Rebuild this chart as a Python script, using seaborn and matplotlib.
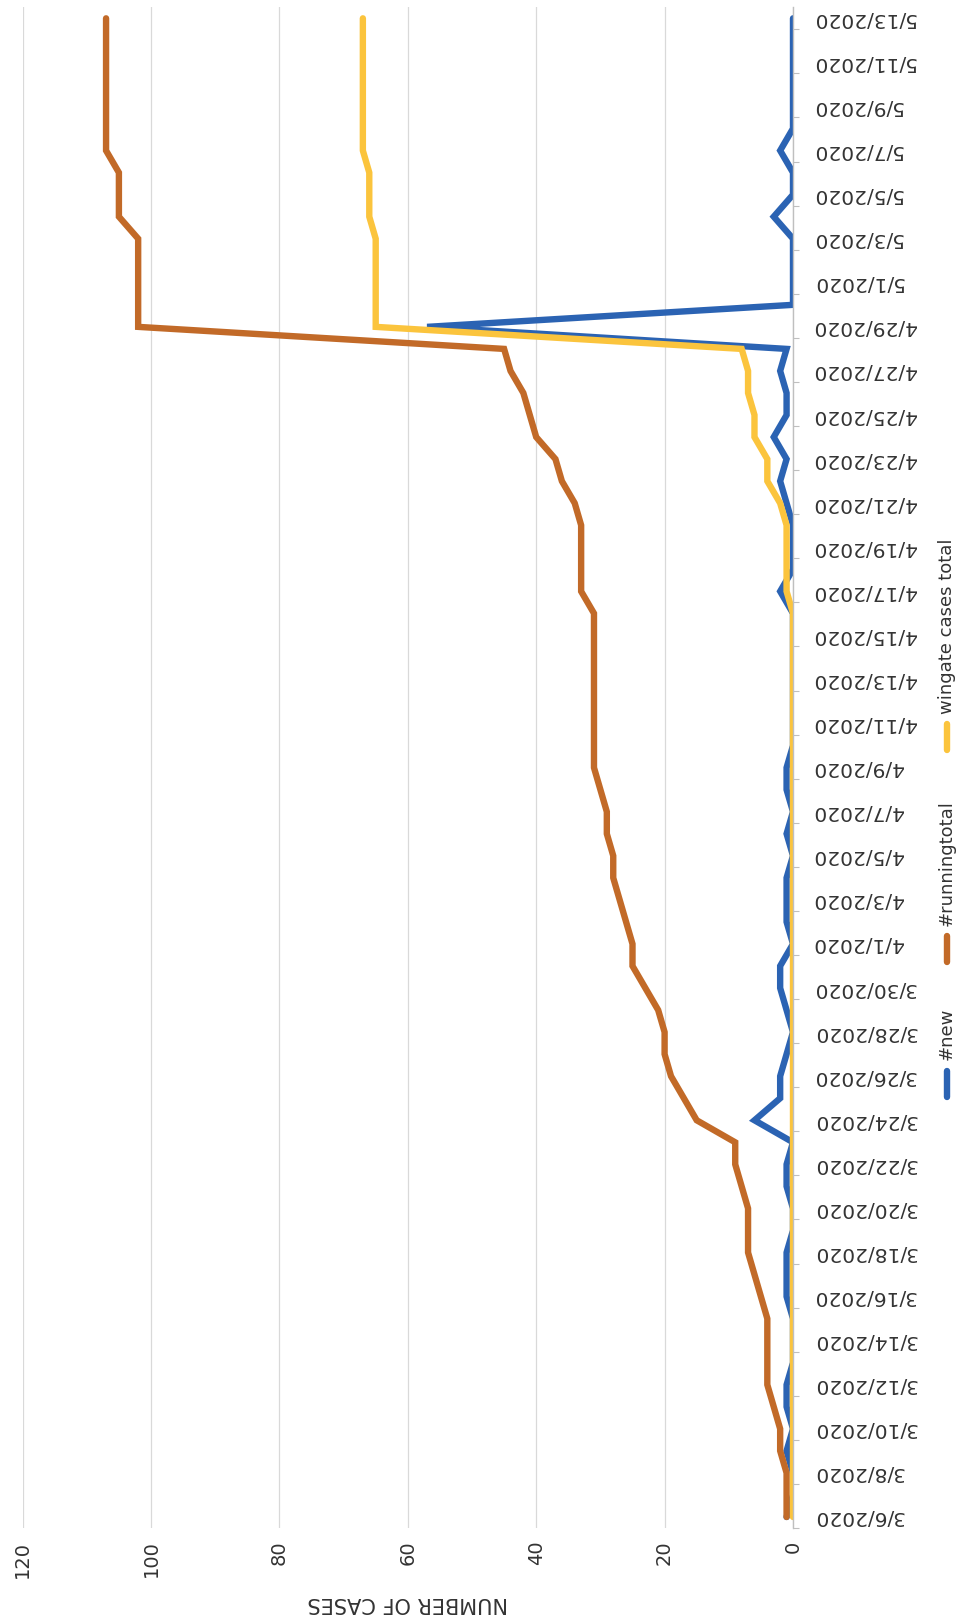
#!/usr/bin/env python3
#
# New / running total / wingate cases, drawn in the rotated (scanned) layout
#
import numpy as np
import pandas as pd
import matplotlib
matplotlib.use('Agg')
import matplotlib.pyplot as plt
from matplotlib.lines import Line2D
import seaborn as sns

# Daily data, 3/6/2020 .. 5/13/2020
dates = pd.date_range('2020-03-06', '2020-05-13', freq='D')

new_cases = [1, 0, 0, 1, 0, 1, 1, 0, 0, 0,
             1, 1, 1, 0, 0, 1, 1, 0, 6, 2,
             2, 1, 0, 1, 2, 2, 0, 1, 1, 1,
             0, 1, 0, 1, 1, 0, 0, 0, 0, 0,
             0, 0, 2, 0, 0, 0, 1, 2, 1, 3,
             1, 1, 2, 1, 57, 0, 0, 0, 0, 3,
             0, 0, 2, 0, 0, 0, 0, 0, 0]

running_total = [1, 1, 1, 2, 2, 3, 4, 4, 4, 4,
                 5, 6, 7, 7, 7, 8, 9, 9, 15, 17,
                 19, 20, 20, 21, 23, 25, 25, 26, 27, 28,
                 28, 29, 29, 30, 31, 31, 31, 31, 31, 31,
                 31, 31, 33, 33, 33, 33, 34, 36, 37, 40,
                 41, 42, 44, 45, 102, 102, 102, 102, 102, 105,
                 105, 105, 107, 107, 107, 107, 107, 107, 107]

wingate_total = [0, 0, 0, 0, 0, 0, 0, 0, 0, 0,
                 0, 0, 0, 0, 0, 0, 0, 0, 0, 0,
                 0, 0, 0, 0, 0, 0, 0, 0, 0, 0,
                 0, 0, 0, 0, 0, 0, 0, 0, 0, 0,
                 0, 0, 1, 1, 1, 1, 2, 4, 4, 6,
                 6, 7, 7, 8, 65, 65, 65, 65, 65, 66,
                 66, 66, 67, 67, 67, 67, 67, 67, 67]

series_names = ['#new', '#runningtotal', 'wingate cases total']

date_labels = [
    '3/6/2020', '3/8/2020', '3/10/2020', '3/12/2020', '3/14/2020',
    '3/16/2020', '3/18/2020', '3/20/2020', '3/22/2020', '3/24/2020',
    '3/26/2020', '3/28/2020', '3/30/2020', '4/1/2020', '4/3/2020',
    '4/5/2020', '4/7/2020', '4/9/2020', '4/11/2020', '4/13/2020',
    '4/15/2020', '4/17/2020', '4/19/2020', '4/21/2020', '4/23/2020',
    '4/25/2020', '4/27/2020', '4/29/2020', '5/1/2020', '5/3/2020',
    '5/5/2020', '5/7/2020', '5/9/2020', '5/11/2020', '5/13/2020',
]

value_ticks = [0, 20, 40, 60, 80, 100, 120]

colors = ['#2b63b3', '#c26a28', '#fbc43d']
palette = dict(zip(series_names, colors))

text_color = '#333333'
plt.rcParams['font.family'] = ['DejaVu Sans']

# Long-form data frame, category axis uses day position
n = len(dates)
day = np.arange(n)
df = pd.DataFrame({
    'day': np.tile(day, 3),
    'cases': new_cases + running_total + wingate_total,
    'series': np.repeat(series_names, n),
})

W, H = 959, 1623
fig = plt.figure(figsize=(W / 100, H / 100), dpi=100)
x0, x1 = 22.6, 793.0
y_top, y_bot = 7.3, 1528.0
ax = fig.add_axes([x0 / W, 1 - y_bot / H, (x1 - x0) / W, (y_bot - y_top) / H])

sns.lineplot(data=df, x='cases', y='day', hue='series', palette=palette,
             orient='y', estimator=None, sort=True, lw=4.6,
             solid_capstyle='round', solid_joinstyle='miter',
             legend=False, ax=ax)

# Value axis (horizontal, reversed)
ax.set_xlim(120, 0)
ax.set_xticks(value_ticks)
ax.grid(axis='x', color='#d9d9d9', lw=0.9)
ax.grid(axis='y', visible=False)
ax.tick_params(axis='x', length=0, labelrotation=90, pad=9,
               labelsize=14, labelcolor=text_color)
ax.set_xlabel('NUMBER OF CASES', rotation=180, fontsize=15,
              color=text_color, labelpad=11)

# Category axis (vertical, dates)
ax.set_ylim(-0.5, n - 0.5)
ax.yaxis.tick_right()
ax.set_yticks(day[::2])
ax.set_yticklabels(date_labels, rotation=180, va='center', ha='left')
ax.set_yticks(np.arange(-0.5, n, 2), minor=True)
ax.tick_params(axis='y', which='major', length=0, pad=14,
               labelsize=14.5, labelcolor=text_color)
ax.tick_params(axis='y', which='minor', length=4, width=0.8,
               color='#bfbfbf', direction='out')
ax.set_ylabel('')

for side in ['left', 'top', 'bottom']:
    ax.spines[side].set_visible(False)
ax.spines['right'].set_color('#bfbfbf')
ax.spines['right'].set_linewidth(1.0)

# Legend, stacked bottom to top like the rotated page
legend_x = 947 / W
legend_rows = [(1097, 1071, 1060), (962, 936, 926), (750, 724, 714)]
for name, (m0, m1, t0) in zip(series_names, legend_rows):
    fig.add_artist(Line2D([legend_x, legend_x], [1 - m0 / H, 1 - m1 / H],
                          color=palette[name], lw=4.6,
                          solid_capstyle='round', transform=fig.transFigure))
    fig.text(legend_x, 1 - t0 / H, name, rotation=90, ha='center',
             va='bottom', fontsize=13, color=text_color)

fig.savefig('out.png', dpi=100, facecolor='white')
